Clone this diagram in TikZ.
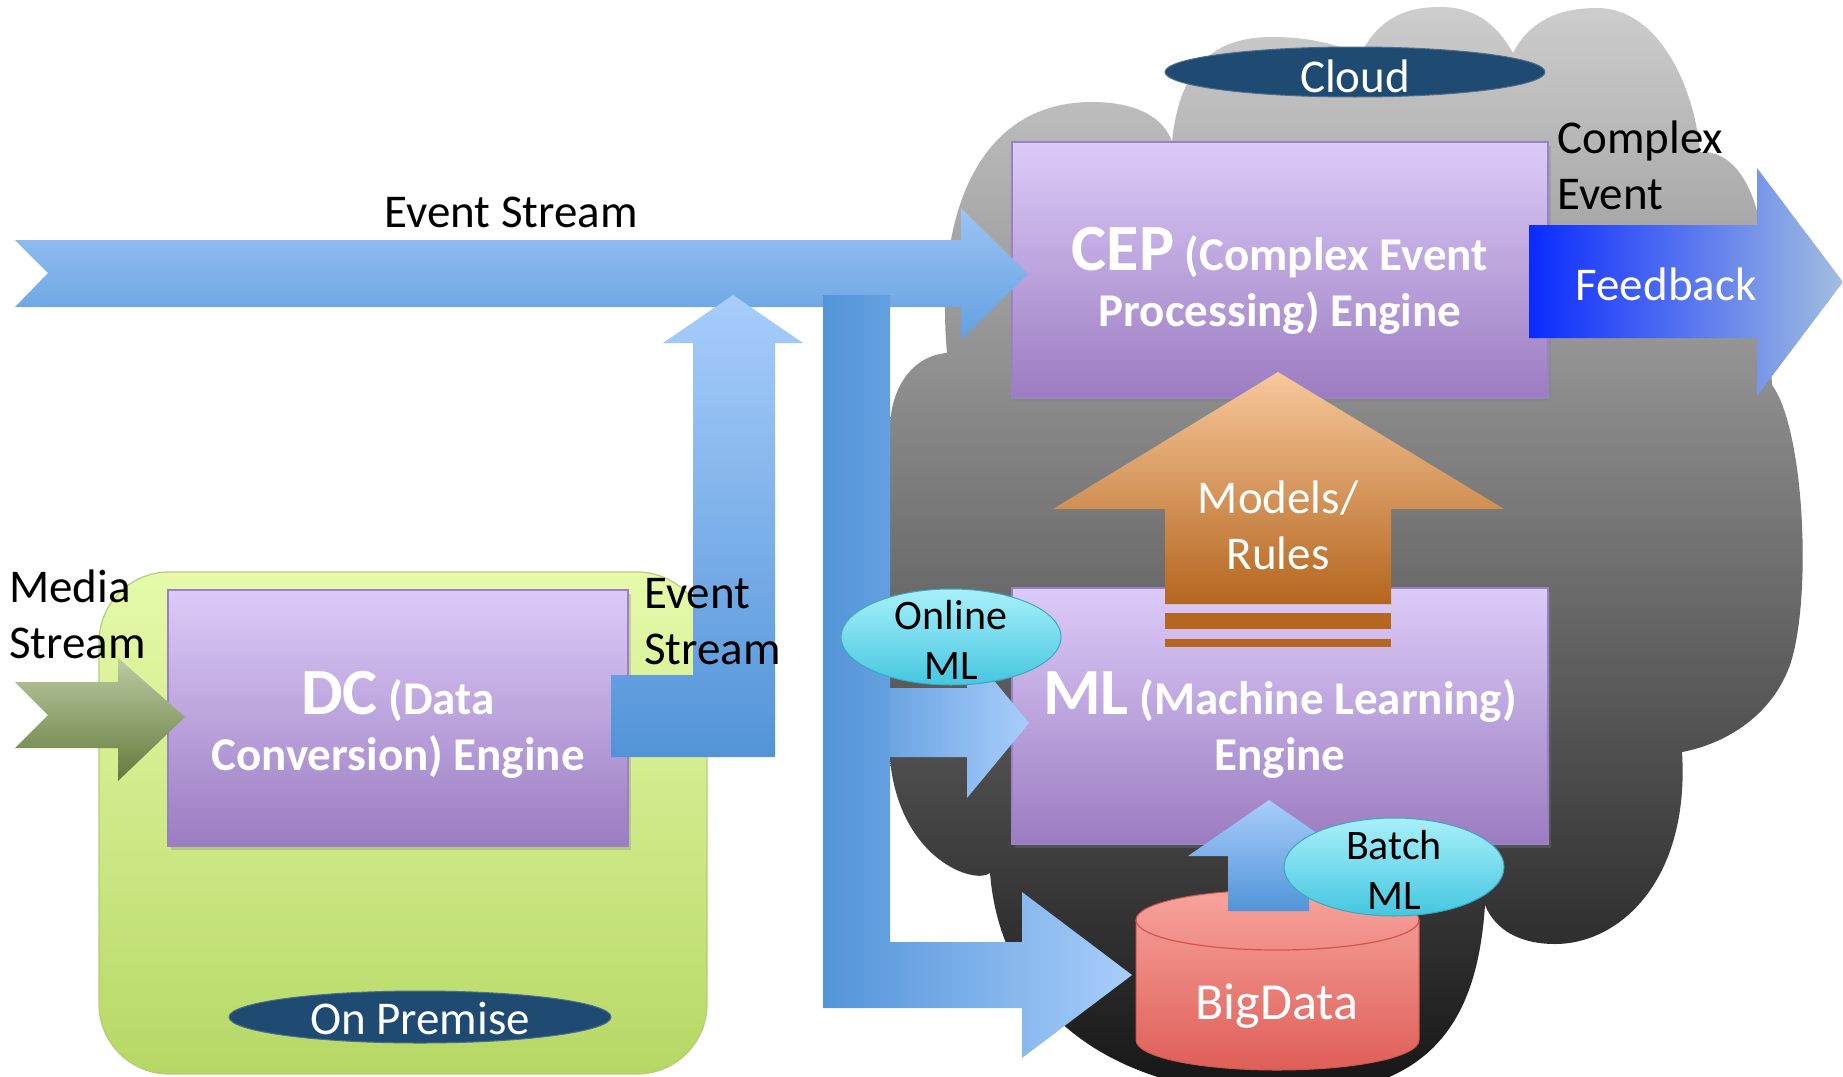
\documentclass[tikz,border=0pt]{standalone}
\usepackage{fontspec}
\setmainfont{Carlito}
\usetikzlibrary{shapes.geometric,shadows}

\definecolor{engtop}{HTML}{DCCBF8}
\definecolor{engbot}{HTML}{9B7CC1}
\definecolor{engedge}{HTML}{9A80C4}
\definecolor{premtop}{HTML}{E6FAAA}
\definecolor{prembot}{HTML}{B6D865}
\definecolor{premedge}{HTML}{B5CC7A}
\definecolor{streamlt}{HTML}{A8CDFB}
\definecolor{streamdk}{HTML}{5294D8}
\definecolor{toplt}{HTML}{9CC3F3}
\definecolor{topdk}{HTML}{62A0E0}
\definecolor{tagblue}{HTML}{1F4A72}
\definecolor{bubtop}{HTML}{A8F0FA}
\definecolor{bubbot}{HTML}{45C6E0}
\definecolor{bubedge}{HTML}{3AA8C0}
\definecolor{feedlt}{HTML}{A2BEE0}
\definecolor{feeddk}{HTML}{0A2AFF}
\definecolor{mediatop}{HTML}{BCCBA3}
\definecolor{mediabot}{HTML}{647A3C}
\definecolor{ruletop}{HTML}{F7C89C}
\definecolor{rulebot}{HTML}{B5661F}
\definecolor{datatop}{HTML}{F8A39D}
\definecolor{databot}{HTML}{DE5F58}
\definecolor{dataedge}{HTML}{D2564F}
\definecolor{cloudtop}{HTML}{CDCDCD}
\definecolor{cloudbot}{HTML}{141414}

\newcommand{\bigword}[1]{{\fontsize{66}{56}\selectfont #1}}

\begin{document}
\begin{tikzpicture}[x=1pt, y=-1pt,
        every node/.style={inner sep=0pt, font=\fontsize{47}{56}\selectfont},
        engine/.style={rectangle, draw=engedge, line width=1.2pt, top color=engtop, bottom color=engbot,
            minimum width=536pt, minimum height=256pt,
            drop shadow={opacity=0.3, shadow xshift=3pt, shadow yshift=-4pt}},
        premise/.style={rectangle, rounded corners=70pt, draw=premedge, line width=1.2pt,
            top color=premtop, bottom color=prembot, minimum width=608pt, minimum height=502pt},
        enginetext/.style={anchor=base, align=center, text=white, font=\fontsize{47}{56}\selectfont\bfseries},
        placetag/.style={ellipse, fill=tagblue, draw=tagblue!80!white, line width=1pt},
        bubble/.style={ellipse, draw=bubedge, line width=1pt, top color=bubtop, bottom color=bubbot,
            minimum width=220pt, minimum height=96pt},
        plaintext/.style={anchor=base},
        whitetext/.style={anchor=base, text=white},
        bubbletext/.style={anchor=base, align=center, font=\fontsize{42}{50}\selectfont},
        vstream/.style={top color=streamlt, bottom color=streamdk},
        hstream/.style={left color=streamdk, right color=streamlt}]
    \useasboundingbox (0,0) rectangle (1843,1076);

    \shade[top color=cloudtop, bottom color=cloudbot]
        (890,430) .. controls (890,385) and (915,355) .. (947,353)
        .. controls (935,220) and (975,102) .. (1092,102)
        .. controls (1140,102) and (1165,120) .. (1172,142)
        .. controls (1180,60) and (1220,37) .. (1272,37)
        .. controls (1310,37) and (1340,45) .. (1360,55)
        .. controls (1380,15) and (1410,7) .. (1440,7)
        .. controls (1480,7) and (1500,30) .. (1513,53)
        .. controls (1530,20) and (1560,8) .. (1597,8)
        .. controls (1660,8) and (1695,90) .. (1700,152)
        .. controls (1735,150) and (1760,190) .. (1765,260)
        -- (1772,385)
        .. controls (1805,430) and (1812,600) .. (1790,665)
        .. controls (1770,720) and (1720,745) .. (1682,752)
        .. controls (1690,880) and (1620,944) .. (1555,944)
        .. controls (1520,944) and (1495,930) .. (1485,905)
        .. controls (1478,1010) and (1440,1090) .. (1300,1095)
        .. controls (1100,1100) and (1000,1000) .. (990,873)
        .. controls (975,885) and (900,860) .. (890,760)
        -- cycle;

    \node[premise] (prem) at (403,823) {};
    \node[engine, minimum width=460pt] (dc) at (398,718) {};
    \node[engine] (cep) at (1280,270) {};
    \node[engine] (ml) at (1280,716) {};

    \shade[top color=datatop, bottom color=databot, draw=dataedge, line width=1pt]
        (1136,920) -- (1136,1040)
        .. controls (1136,1057) and (1199,1070) .. (1277,1070)
        .. controls (1355,1070) and (1419,1057) .. (1419,1040)
        -- (1419,920)
        .. controls (1419,903) and (1355,890) .. (1277,890)
        .. controls (1199,890) and (1136,903) .. (1136,920) -- cycle;
    \draw[dataedge, line width=1.2pt] (1136,920) .. controls (1136,937) and (1199,950) .. (1277,950)
        .. controls (1355,950) and (1419,937) .. (1419,920);

    \shade[top color=toplt, bottom color=topdk]
        (15,240) -- (961,240) -- (961,208) -- (1028,274) -- (961,340) -- (961,307) -- (15,307) -- (48,273) -- cycle;
    \shade[vstream]
        (611,675) -- (693,675) -- (693,343) -- (663,343) -- (733,295) -- (803,343) -- (775,343) -- (775,757) -- (611,757) -- cycle;
    \shade[hstream]
        (823,295) -- (890,295) -- (890,942) -- (1022,942) -- (1022,892) -- (1132,975) -- (1022,1058) -- (1022,1008) -- (823,1008) -- cycle;
    \shade[left color=streamdk!70!streamlt, right color=streamlt]
        (890,688) -- (967,688) -- (967,648) -- (1029,723) -- (967,798) -- (967,757) -- (890,757) -- cycle;
    \shade[top color=mediatop, bottom color=mediabot]
        (15,682) -- (118,682) -- (118,658) -- (185,717) -- (118,781) -- (118,748) -- (15,748) -- (48,715) -- cycle;
    \shade[left color=feeddk, right color=feedlt]
        (1529,225) -- (1757,225) -- (1757,168) -- (1843,282) -- (1757,396) -- (1757,338) -- (1529,338) -- cycle;
    \shade[top color=ruletop, bottom color=rulebot]
        (1278,372) -- (1504,509) -- (1391,509) -- (1391,604) -- (1165,604) -- (1165,509) -- (1053,509) -- cycle;
    \foreach \ya/\yb in {613/629, 639/647}
        \fill[rulebot] (1165,\ya) rectangle (1391,\yb);
    \shade[vstream]
        (1269,800) -- (1350,856) -- (1309,856) -- (1309,911) -- (1228,911) -- (1228,856) -- (1188,856) -- cycle;

    \node[placetag, minimum width=380pt, minimum height=50pt] (cloudtag) at (1355,72) {};
    \node[placetag, minimum width=382pt, minimum height=52pt] (premtag) at (420,1017) {};
    \node[bubble] (online) at (951,637) {};
    \node[bubble, minimum height=98pt] (batch) at (1394,867) {};

    \node[plaintext] (evtop) at (511,227) {Event Stream};
    \node[plaintext, anchor=base west, align=left] (media) at (9,658) {Media\\Stream};
    \node[plaintext, anchor=base west, align=left] (evdc) at (644,664) {Event\\Stream};
    \node[plaintext, anchor=base west, align=left] (complex) at (1557,209) {Complex\\Event};
    \node[whitetext] (feedtxt) at (1666,300) {Feedback};
    \node[whitetext] (cloudtxt) at (cloudtag.center) [yshift=-20pt] {Cloud};
    \node[whitetext] (premtxt) at (premtag.center) [yshift=-17pt] {On Premise};
    \node[whitetext, align=center] (rulestxt) at (1278,569) {Models/\\Rules};
    \node[enginetext] (dctxt) at (398,770) {\bigword{DC} (Data\\Conversion) Engine};
    \node[enginetext] (ceptxt) at (1280,326) {\bigword{CEP} (Complex Event\\Processing) Engine};
    \node[enginetext] (mltxt) at (1280,770) {\bigword{ML} (Machine Learning)\\Engine};
    \node[bubbletext] (onlinetxt) at (951,679) {Online\\ML};
    \node[bubbletext] (batchtxt) at (1394,909) {Batch\\ML};
    \node[whitetext, font=\fontsize{52}{60}\selectfont] (datatxt) at (1277,1019) {BigData};
\end{tikzpicture}
\end{document}
